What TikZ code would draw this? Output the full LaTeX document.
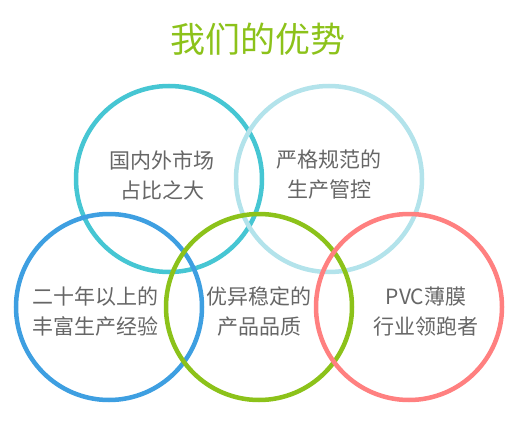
\documentclass[tikz,border=0pt]{standalone}
\usepackage{fontspec}
\setmainfont{Noto Sans CJK SC}
\definecolor{cteal}{HTML}{46C6D3}
\definecolor{clight}{HTML}{B3E3EB}
\definecolor{cblue}{HTML}{3E9FE1}
\definecolor{cgreen}{HTML}{8CC21A}
\definecolor{cred}{HTML}{FF8080}
\definecolor{ctext}{HTML}{666666}
\begin{document}
\begin{tikzpicture}[x=1pt,y=-1pt,
  ring/.style={circle,draw=#1,line width=4.5pt,minimum size=186pt,inner sep=0pt},
  lbl/.style={text=ctext,font=\fontsize{21}{30}\selectfont,align=center,inner sep=0pt},
  ttl/.style={text=cgreen,font=\fontsize{35}{40}\selectfont,inner sep=0pt}]
\useasboundingbox (0,0) rectangle (519,444);
\node[ttl] (title) at (258,39) {我们的优势};
\node[ring=cteal] (c1) at (169,179) {};
\node[ring=clight] (c2) at (329,179) {};
\node[ring=cblue] (c3) at (109,307) {};
\node[ring=cgreen] (c4) at (259,307) {};
\node[ring=cred] (c5) at (409,307) {};
\node[lbl] (t1) at (162,175) {国内外市场\\占比之大};
\node[lbl] (t2) at (329,175) {严格规范的\\生产管控};
\node[lbl] (t3) at (95,312) {二十年以上的\\丰富生产经验};
\node[lbl] (t4) at (259,312) {优异稳定的\\产品品质};
\node[lbl] (t5) at (426,312) {PVC薄膜\\行业领跑者};
\end{tikzpicture}
\end{document}
